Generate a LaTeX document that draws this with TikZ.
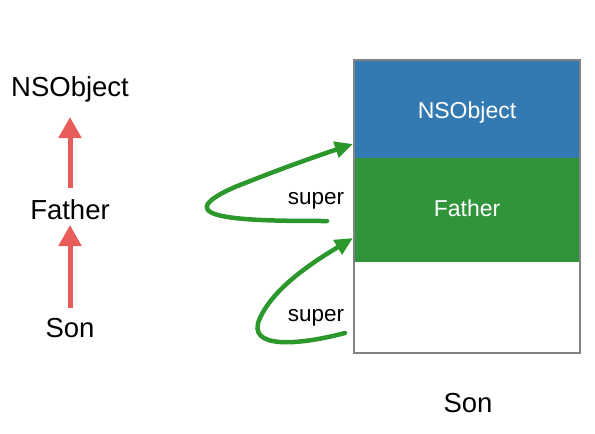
\documentclass[tikz,border=0pt]{standalone}
\usepackage{fontspec}
\setmainfont{Liberation Sans}
\usetikzlibrary{arrows.meta}
\definecolor{redarr}{RGB}{232,92,90}
\definecolor{grarr}{RGB}{44,152,44}
\definecolor{bluebox}{RGB}{52,122,178}
\definecolor{greenbox}{RGB}{48,148,58}
\definecolor{boxline}{RGB}{130,130,130}
\tikzset{
  lbl/.style={inner sep=0pt, font=\fontsize{27.5}{30}\selectfont},
  inlbl/.style={inner sep=0pt, text=white, font=\fontsize{23}{26}\selectfont},
  suplbl/.style={inner sep=0pt, font=\fontsize{22.5}{25}\selectfont},
  redarrow/.style={draw=redarr, line width=5pt, -{Triangle[width=22pt,length=21pt]}},
  grarrow/.style={draw=grarr, line width=4.5pt, line cap=round, -{Triangle[width=16pt,length=18pt]}},
}
\begin{document}
\begin{tikzpicture}[x=1pt,y=-1pt]
\useasboundingbox (0,0) rectangle (595,434);
% left hierarchy
\node[lbl] (lnso) at (70,89) {NSObject};
\node[lbl] (lfat) at (70,210) {Father};
\node[lbl] (lson) at (70,328) {Son};
\draw[redarrow] (70,188) -- (70,117);
\draw[redarrow] (70,308) -- (70,225);
% memory boxes
\fill[bluebox] (354,60) rectangle (580,158);
\fill[greenbox] (354,158) rectangle (580,262);
\draw[boxline, line width=1.2pt] (354,60) rectangle (580,353);
\node[inlbl] (bnso) at (467,113) {NSObject};
\node[inlbl] (bfat) at (467,208) {Father};
\node[lbl] (bson) at (468,403) {Son};
\coordinate (t1) at (353,144);
\coordinate (t2) at (353,238);
\node[suplbl] (s1) at (316,201) {super};
\node[suplbl] (s2) at (316,318) {super};
\draw[grarrow] (327,221) .. controls (250,221) and (160,220) .. (235,187) .. controls (285,167) and (320,155) .. (t1);
\draw[grarrow] (345,333) .. controls (300,345) and (245,350) .. (260,318) .. controls (275,285) and (320,258) .. (t2);
\end{tikzpicture}
\end{document}
